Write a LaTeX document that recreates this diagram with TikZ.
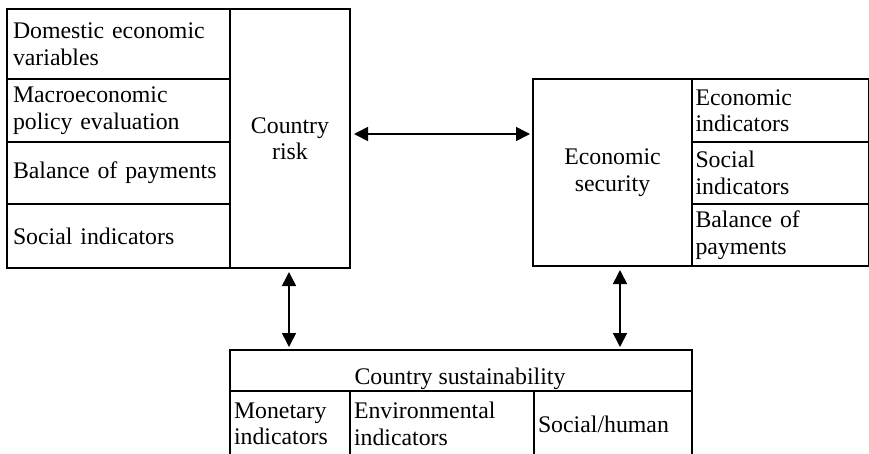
\documentclass[tikz,border=0pt]{standalone}
\usepackage{fontspec}
\setmainfont{Liberation Serif}
\usetikzlibrary{arrows.meta}
\begin{document}
\begin{tikzpicture}[x=1pt,y=-1pt,
  box/.style={draw, line width=2pt, rectangle, anchor=north west, inner ysep=0pt,
    font=\fontsize{23.8}{26.5}\selectfont},
  lbox/.style={box, align=left},
  cbox/.style={box, align=center},
  txt/.style={font=\fontsize{23.8}{26.5}\selectfont, inner sep=0pt},
  arr/.style={{Triangle[length=14pt,width=14pt]}-{Triangle[length=14pt,width=14pt]}, line width=1.6pt, shorten <=3pt, shorten >=2pt}]
\useasboundingbox (0,0) rectangle (869,453);
% left block
\node[lbox, inner xsep=6pt, text width=211pt, minimum width=223pt, minimum height=70pt] (dom) at (6,8) {Domestic economic\\variables};
\node[lbox, inner xsep=6pt, text width=211pt, minimum width=223pt, minimum height=63pt] (mac) at (6,78) {Macroeconomic\\policy evaluation};
\node[lbox, inner xsep=6pt, text width=211pt, minimum width=223pt, minimum height=62pt] (bop) at (6,141) {Balance of payments};
\node[lbox, inner xsep=6pt, text width=211pt, minimum width=223pt, minimum height=64pt] (soc) at (6,203) {Social indicators};
\node[cbox, inner xsep=6pt, text width=108pt, minimum width=120pt, minimum height=259pt] (crisk) at (229,8) {Country\\risk};
% right block
\node[cbox, inner xsep=6pt, text width=147pt, minimum width=159pt, minimum height=187pt] (esec) at (532,78) {Economic\\security};
\node[lbox, inner xsep=3.5pt, text width=170pt, minimum width=177pt, minimum height=63pt] (eind) at (691,78) {Economic\\indicators};
\node[lbox, inner xsep=3.5pt, text width=170pt, minimum width=177pt, minimum height=62pt] (sind) at (691,141) {Social\\indicators};
\node[lbox, inner xsep=3.5pt, text width=170pt, minimum width=177pt, minimum height=62pt] (rbop) at (691,203) {Balance of\\payments};
% bottom block
\node[box, minimum width=462pt, minimum height=41pt] (sust) at (229,349) {};
\node[txt, anchor=base] (sustt) at (460,384) {Country sustainability};
\node[lbox, inner xsep=4pt, text width=112pt, minimum width=120pt, minimum height=66pt] (mon) at (229,390) {Monetary\\indicators};
\node[lbox, inner xsep=4pt, text width=176pt, minimum width=184pt, minimum height=66pt] (env) at (349,390) {Environmental\\indicators};
\node[lbox, inner xsep=4pt, text width=150pt, minimum width=158pt, minimum height=66pt] (shum) at (533,390) {Social/human};
% connectors
\draw[arr] ([yshift=4.5pt]crisk.east) -- ([yshift=4.5pt]crisk.east -| esec.west);
\draw[arr] ([xshift=-1pt]crisk.south) -- ([xshift=-1pt]crisk.south |- sust.north);
\draw[arr] ([xshift=7.5pt]esec.south) -- ([xshift=7.5pt]esec.south |- sust.north);
\end{tikzpicture}
\end{document}
